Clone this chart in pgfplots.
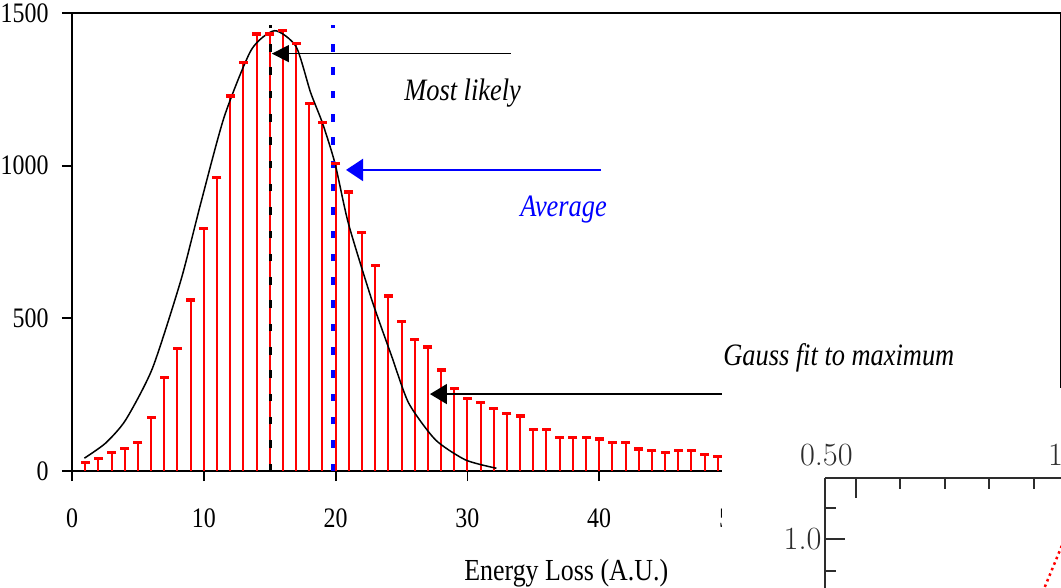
\documentclass[border=0pt]{standalone}
\usepackage{fontspec}
\setmainfont{Liberation Serif}
\usepackage{graphicx}
\usepackage{pgfplots}
\pgfplotsset{compat=1.18}
\usetikzlibrary{arrows.meta}

\definecolor{stemred}{RGB}{255,0,0}
\definecolor{avgblue}{RGB}{0,0,255}
\definecolor{insetgray}{RGB}{45,45,45}

% the reference text is a little taller than wide
\newcommand{\vs}[1]{\scalebox{1}[1.18]{#1}}
\newcommand{\lmfont}{\fontfamily{lmr}\fontsize{32.5}{36}\selectfont}

\begin{document}
\begin{tikzpicture}
\useasboundingbox (0,0) rectangle (1061bp,-588bp);
\begin{axis}[
  at={(72bp,-471bp)}, anchor=south west,
  scale only axis, width=988.5bp, height=458bp,
  xmin=0, xmax=75, ymin=0, ymax=1500,
  xtick={0,10,...,70}, ytick={0,500,1000,1500},
  xtick pos=bottom, ytick pos=left, tick align=outside,
  major tick length=10bp,
  axis line style={line width=1.8bp},
  every tick/.style={black,line width=1.8bp},
  tick label style={font=\fontsize{24}{28}\selectfont},
  /pgf/number format/assume math mode=true,
  /pgf/number format/1000 sep={},
  scaled ticks=false,
  xticklabel={\vs{\pgfmathprintnumber{\tick}}},
  yticklabel={\vs{\pgfmathprintnumber{\tick}}},
  xticklabel style={anchor=base, yshift=-46bp},
  yticklabel style={xshift=-10bp},
  xlabel={\vs{Energy Loss (A.U.)}},
  xlabel style={at={(axis description cs:0.5,-0.238)}, anchor=base,
    font=\fontsize{26}{30}\selectfont},
  clip=false,
]
% counts per energy-loss bin
\addplot[ycomb, stemred, line width=2bp, mark=-, mark size=4.5bp,
  mark options={line width=3.2bp}] coordinates {
  (1,29) (2,41) (3,61) (4,74) (5,93) (6,175) (7,307) (8,402) (9,560)
  (10,793) (11,960) (12,1228) (13,1337) (14,1431) (15,1431) (16,1444)
  (17,1401) (18,1204) (19,1141) (20,1008) (21,914) (22,781) (23,672)
  (24,573) (25,489) (26,432) (27,406) (28,331) (29,269) (30,237)
  (31,225) (32,205) (33,188) (34,180) (35,137) (36,137) (37,111)
  (38,111) (39,111) (40,105) (41,93) (42,93) (43,72) (44,66) (45,61)
  (46,66) (47,66) (48,55) (49,48)
};
% gauss fit
\addplot[black, line width=1.5bp, smooth, tension=0.4] coordinates {
  (0.94,42) (2.54,91) (4.07,167) (6.1,336) (8.27,626) (9.77,877)
  (11.55,1160) (13.6,1379) (15.37,1442) (17.0,1390) (18.1,1240)
  (19.0,1140) (19.95,1008) (20.97,811) (22.75,560) (24.27,374)
  (25.55,222) (27.58,102) (29.87,36) (32.2,9)
};
% most likely / average
\addplot[black, line width=3.6bp, dash pattern=on 7.5bp off 15.8bp]
  coordinates {(15.05,0) (15.05,1462)};
\addplot[avgblue, line width=3.2bp, dash pattern=on 7.5bp off 15.8bp]
  coordinates {(19.8,0) (19.8,1462)};

\draw[line width=1.6bp, -{Triangle[length=17bp,width=17bp]}]
  (axis cs:33.29,1367) -- (axis cs:15.17,1367);
\draw[avgblue, line width=2bp, -{Triangle[length=17bp,width=22bp]}]
  (axis cs:40.14,986) -- (axis cs:20.79,986);
\draw[line width=1.6bp, -{Triangle[length=17bp,width=20bp]}]
  (axis cs:75,252) -- (axis cs:27.16,252);

\node[anchor=base west, inner sep=0pt, font=\itshape\fontsize{26.5}{30}\selectfont]
  at (axis cs:25.2,1215) {\vs{Most likely}};
\node[anchor=base west, inner sep=0pt, avgblue, font=\itshape\fontsize{26.5}{30}\selectfont]
  at (axis cs:34.0,832) {\vs{Average}};
\node[anchor=base west, inner sep=0pt, font=\itshape\fontsize{26.5}{30}\selectfont]
  at (axis cs:49.4,347) {\vs{Gauss fit to maximum}};
\end{axis}

\fill[white] (722bp,-388bp) rectangle (1070bp,-600bp);

\begin{axis}[
  at={(825bp,-478bp)}, anchor=north west,
  scale only axis, width=297.7bp, height=218.5bp,
  xmin=0.431, xmax=1.1, ymin=0.5, ymax=1.1937,
  axis x line*=top, axis y line*=left,
  xtick={0.5,1.0}, minor xtick={0.6,0.7,0.8,0.9},
  ytick={1.0}, minor ytick={0.9,1.1},
  xticklabels={}, yticklabels={1.0},
  tick align=inside, major tick length=20bp, minor tick length=11bp,
  axis line style={insetgray, line width=2bp},
  every tick/.style={insetgray, line width=2bp},
  tick label style={insetgray, font=\lmfont},
  yticklabel style={xshift=0bp},
  clip=false,
]
\addplot[red, line width=2.5bp, dash pattern=on 2.5bp off 3.5bp]
  coordinates {(0.925,0.848) (0.961,0.971) (0.985,1.06)};
\node[insetgray, anchor=base, inner sep=0pt, font=\lmfont]
  at (axis cs:0.434,1.2333) {0.50};
\node[insetgray, anchor=base west, inner sep=0pt, font=\lmfont]
  at (axis cs:0.9320,1.2333) {1.00};
\end{axis}
\end{tikzpicture}
\end{document}
